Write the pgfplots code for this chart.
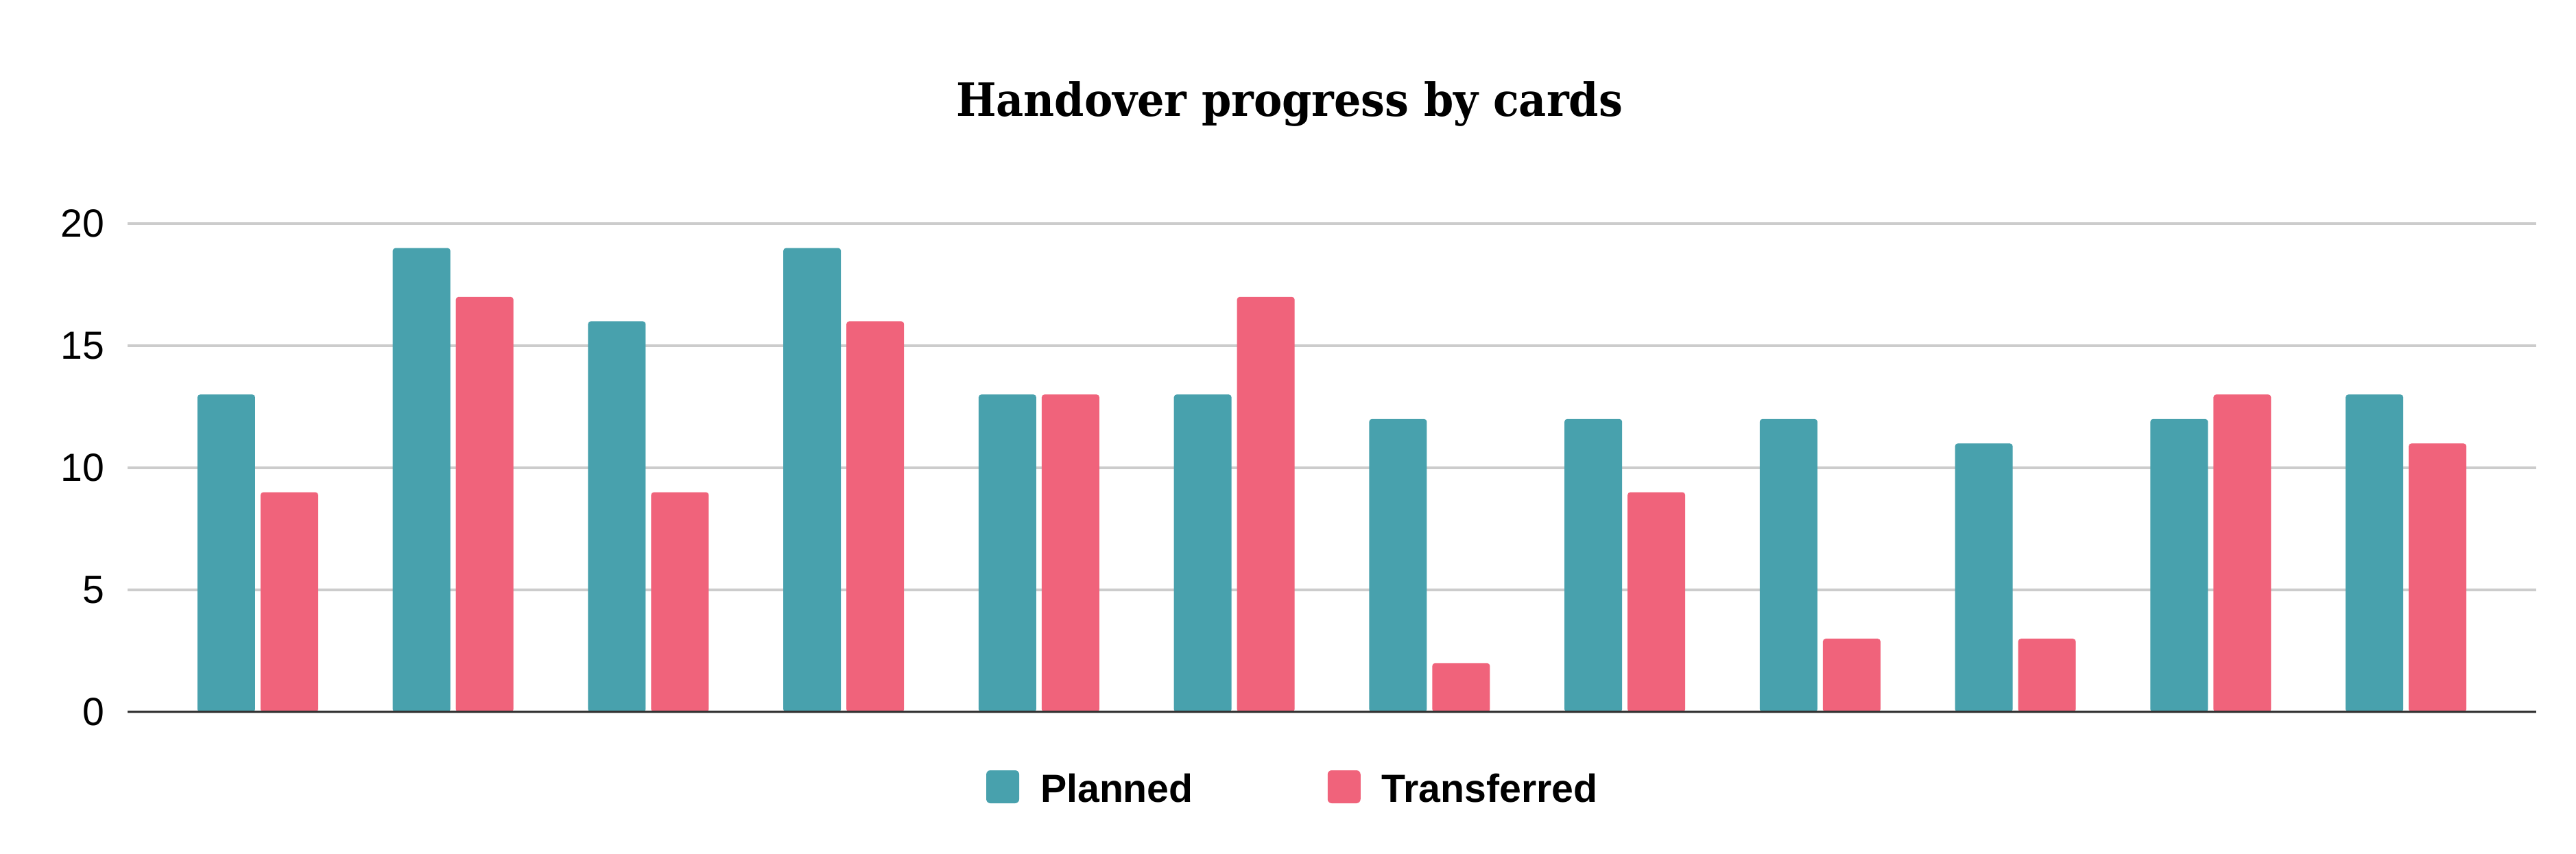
\documentclass[border=0pt]{standalone}
\usepackage{fontspec}
\setmainfont{Liberation Sans}
\newfontfamily\titlefont[FakeStretch=0.925]{DejaVu Serif}
\usepackage{pgfplots}
\pgfplotsset{compat=1.18}

\definecolor{planned}{HTML}{48A1AD}
\definecolor{transf}{HTML}{F0637B}
\definecolor{gridgray}{HTML}{CCCCCC}
\definecolor{basegray}{HTML}{333333}

\begin{document}
\begin{tikzpicture}
\begin{axis}[
    at={(37.2pt,41.2pt)}, anchor=south west,
    scale only axis,
    width=702.4pt, height=142.4pt,
    xmin=-0.667, xmax=11.667,
    ymin=0, ymax=20,
    ybar=1.6pt, bar width=16.8pt,
    axis line style={draw=none},
    xtick=\empty,
    ytick={0,5,10,15,20},
    ymajorgrids,
    grid style={gridgray, line width=0.8pt},
    major tick length=0pt,
    tick label style={font=\fontsize{11.45}{13}\selectfont},
    yticklabel style={inner sep=0pt, xshift=-6.6pt},
    /pgf/number format/assume math mode=true,
    legend columns=2,
    legend style={
        at={(0.3565,-0.1194)}, anchor=north west,
        draw=none, fill=none, inner sep=0pt, outer sep=0pt,
        font=\bfseries\fontsize{11.45}{13}\selectfont,
        nodes={inner sep=0pt, anchor=base west},
        /tikz/every odd column/.style={column sep=6.2pt},
        /tikz/every even column/.style={column sep=39.2pt},
    },
    legend image code/.code={
        \fill[#1, rounded corners=1.2pt] (0pt,-0.4pt) rectangle (9.6pt,9.2pt);
    },
]
% Planned
\addplot[fill=planned, draw=none, rounded corners=0.8pt] coordinates {
    (0,13) (1,19) (2,16) (3,19) (4,13) (5,13)
    (6,12) (7,12) (8,12) (9,11) (10,12) (11,13)};
\addlegendentry{Planned}
% Transferred
\addplot[fill=transf, draw=none, rounded corners=0.8pt] coordinates {
    (0,9) (1,17) (2,9) (3,16) (4,13) (5,17)
    (6,2) (7,9) (8,3) (9,3) (10,13) (11,11)};
\addlegendentry{Transferred}
\draw[basegray, line width=0.8pt] (axis cs:-0.667,0) -- (axis cs:11.667,0);
\end{axis}
\node[anchor=base, inner sep=0pt, font=\titlefont\bfseries\fontsize{13.4}{15}\selectfont]
    at (376pt,214.8pt) {Handover progress by cards};
\pgfresetboundingbox
\path[use as bounding box] (0,0) rectangle (751.2pt,248.8pt);
\end{tikzpicture}
\end{document}
